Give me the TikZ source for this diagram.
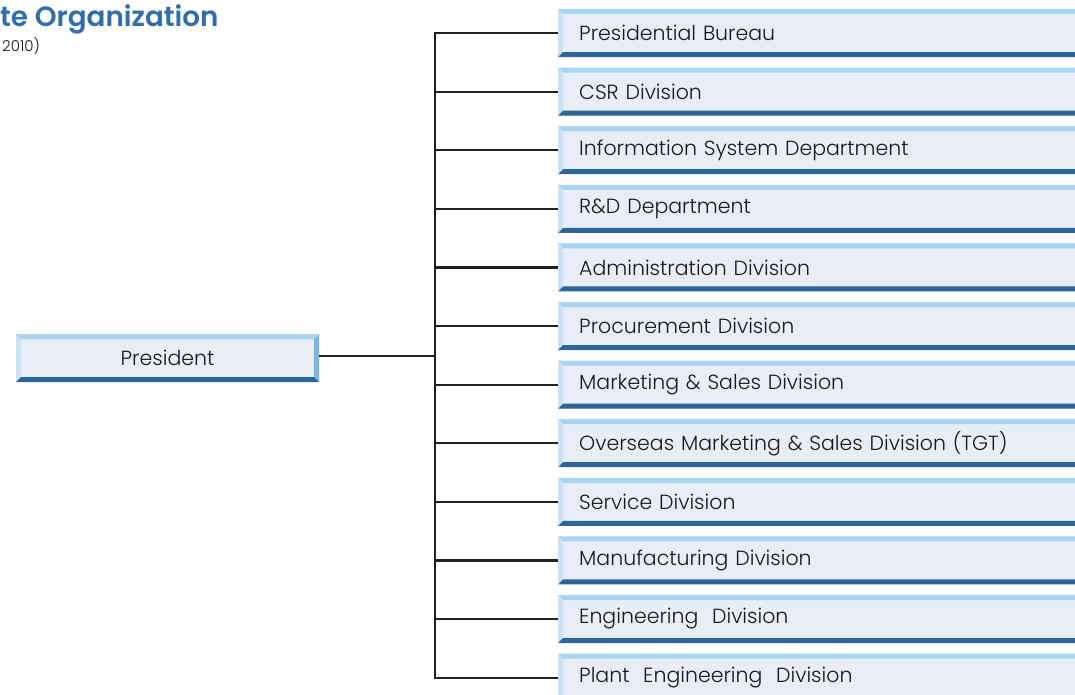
\documentclass[tikz,border=0pt]{standalone}
\usepackage{fontspec}
\newfontfamily\boxfont{Poppins Light}
\newfontfamily\titlefont{Poppins SemiBold}
\usetikzlibrary{positioning, calc}

\definecolor{boxfill}{RGB}{233, 238, 246}
\definecolor{bevtop}{RGB}{168, 214, 242}
\definecolor{bevleft}{RGB}{200, 226, 246}
\definecolor{bevright}{RGB}{120, 182, 232}
\definecolor{bevbottom}{RGB}{44, 101, 152}
\definecolor{titleblue}{RGB}{47, 109, 176}
\definecolor{linegray}{RGB}{35, 31, 32}
\definecolor{labelgray}{RGB}{25, 25, 25}

\begin{document}
\begin{tikzpicture}[
  x=1pt, y=-1pt,
  bevel/.style={fill=boxfill, inner sep=0pt, minimum height=48pt, text=labelgray,
    font=\boxfont\fontsize{20.5}{24}\selectfont,
    path picture={
      \path (path picture bounding box.north west) coordinate (bnw)
            (path picture bounding box.south east) coordinate (bse);
      % four bevelled edges
      \fill[bevleft] (bnw) -- ++(5pt,-5pt) -- ($(bnw |- bse)+(5pt,5pt)$) -- (bnw |- bse) -- cycle;
      \fill[bevright] (bnw -| bse) -- (bse) -- ++(-5pt,5pt) -- ($(bnw -| bse)+(-5pt,-5pt)$) -- cycle;
      \fill[bevtop] (bnw) -- (bnw -| bse) -- ++(-5pt,-5pt) -- ($(bnw)+(5pt,-5pt)$) -- cycle;
      \fill[bevbottom] (bnw |- bse) -- (bse) -- ++(-5pt,5pt) -- ($(bnw |- bse)+(5pt,5pt)$) -- cycle;
    }},
  divbox/.style={bevel, anchor=west, minimum width=530pt, text width=488pt, inner xsep=21pt, align=left},
  conn/.style={draw=linegray, line width=2.2pt},
]
  \clip (0,0) rectangle (1075,694);

  % heading
  \node[anchor=north west, inner sep=0pt, text=titleblue, font=\titlefont\fontsize{27.8}{28}\selectfont] (title) at (0,5) {te Organization};
  \node[anchor=north west, inner sep=0pt, text=labelgray, font=\boxfont\fontsize{15}{15}\selectfont] (year) at (2,37) {2010)};

  % boxes
  \node[bevel, minimum width=303pt] (pres) at (167.5,358) {President};

  \node[divbox] (bureau)   at (558,33.0)  {Presidential Bureau};
  \node[divbox] (csr)      at (558,91.6)  {CSR Division};
  \node[divbox] (infosys)  at (558,150.2) {Information System Department};
  \node[divbox] (rnd)      at (558,208.8) {R\&D Department};
  \node[divbox] (admin)    at (558,267.4) {Administration Division};
  \node[divbox] (procure)  at (558,326.0) {Procurement Division};
  \node[divbox] (mkt)      at (558,384.6) {Marketing \& Sales Division};
  \node[divbox] (overseas) at (558,443.2) {Overseas Marketing \& Sales Division (TGT)};
  \node[divbox] (service)  at (558,501.8) {Service Division};
  \node[divbox] (mfg)      at (558,560.4) {Manufacturing Division};
  \node[divbox] (eng)      at (558,619.0) {Engineering\ \ Division};
  \node[divbox] (planteng) at (558,677.6) {Plant\ \ Engineering\ \ Division};

  % connectors
  \coordinate (trunk) at (435,356);
  \draw[conn] (pres.east |- trunk) -- (trunk);
  \draw[conn] (bureau.west) -- (bureau.west -| trunk) -- (planteng.west -| trunk) -- (planteng.west);
  \foreach \n in {csr, infosys, rnd, admin, procure, mkt, overseas, service, mfg, eng}
    \draw[conn] (\n.west) -- (\n.west -| trunk);
\end{tikzpicture}
\end{document}
